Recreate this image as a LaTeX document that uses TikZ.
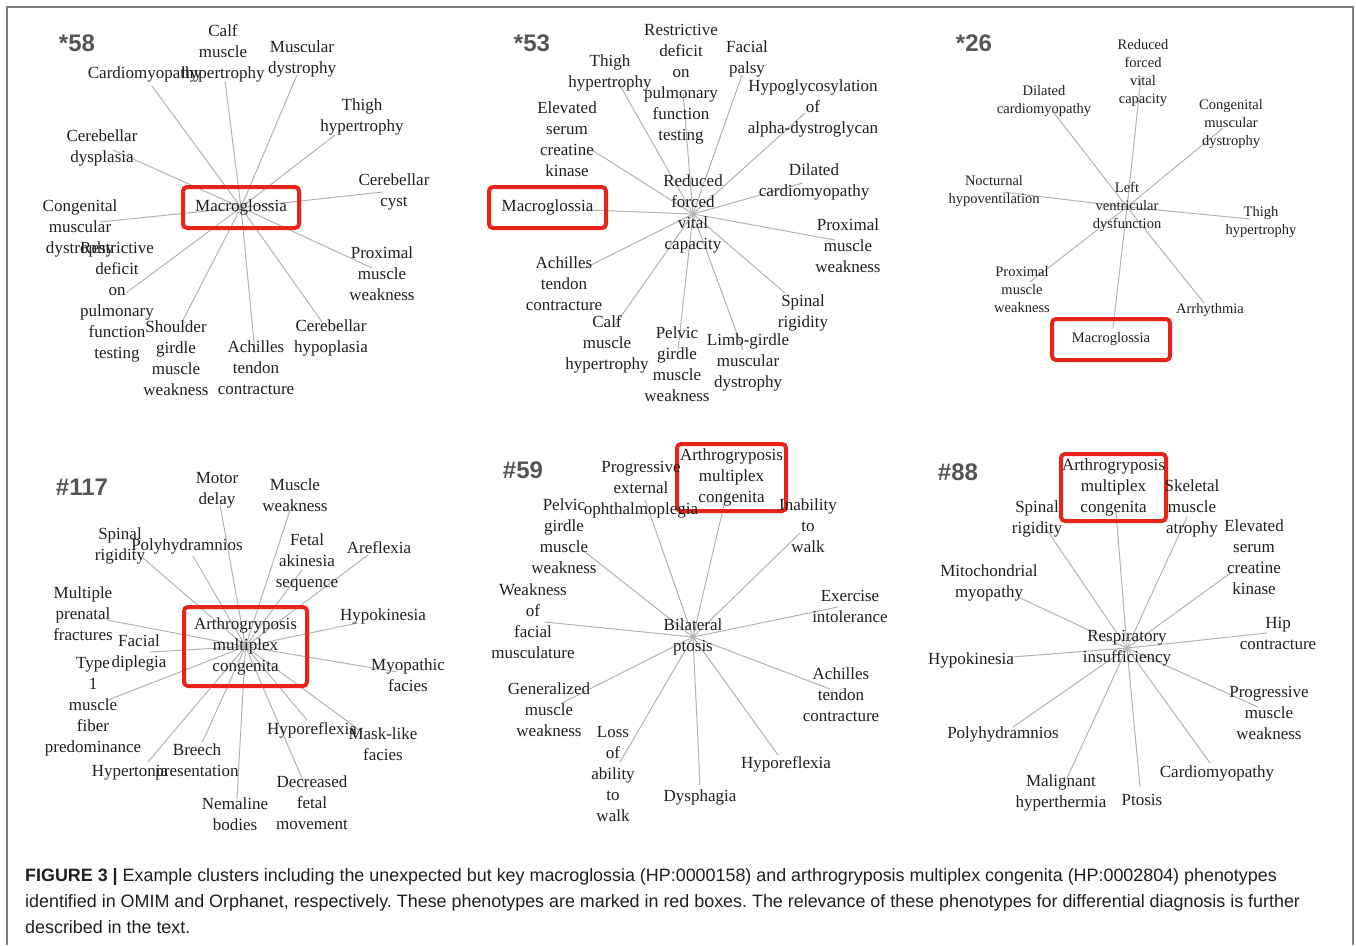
\documentclass[tikz,border=0pt]{standalone}
\usepackage{fontspec}
\setmainfont{Liberation Serif}
\newfontfamily\capfont{Liberation Sans}
\usepackage{tikz}
\usetikzlibrary{backgrounds}
\usepackage{xcolor}
\definecolor{boxred}{RGB}{232,36,26}
\definecolor{edgegray}{RGB}{178,178,178}
\definecolor{taggray}{RGB}{85,85,85}
\definecolor{framegray}{RGB}{125,125,125}
\frenchspacing

\begin{document}
\begin{tikzpicture}[
    x=1pt, y=-1pt,
    term/.style={align=center, inner sep=0pt, font=\fontsize{17}{21}\selectfont, text=black!88},
    termsm/.style={term, font=\fontsize{14.5}{18}\selectfont},
    key/.style={draw=boxred, line width=4pt, rounded corners=4pt, align=center, inner sep=0pt, font=\fontsize{17}{21}\selectfont, text=black!88},
    edge/.style={draw=edgegray, line width=1pt},
    tag/.style={font=\capfont\bfseries\fontsize{24}{24}\selectfont, text=taggray},
    caption/.style={align=left, inner sep=0pt, font=\capfont\fontsize{17.9}{26}\selectfont, text=black!88}
  ]
  \useasboundingbox (0,0) rectangle (1356,945);
  \draw[framegray, line width=1.5pt] (7,945) -- (7,7) -- (1353,7) -- (1353,945);

  % Panel *58
  \node[tag] (t1) at (77,43) {*58};
  \node[key, minimum width=116, minimum height=41] (h1) at (241,207.5) {Macroglossia};
  \node[term] (a1) at (223,53) {Calf\\muscle\\hypertrophy};          \coordinate (a1e) at (225,81);
  \node[term] (a2) at (302,59) {Muscular\\dystrophy};                \coordinate (a2e) at (297,75);
  \node[term] (a3) at (145,74) {Cardiomyopathy};                     \coordinate (a3e) at (152,86);
  \node[term] (a4) at (362,117) {Thigh\\hypertrophy};                \coordinate (a4e) at (335,135);
  \node[term] (a5) at (102,148) {Cerebellar\\dysplasia};             \coordinate (a5e) at (113,150);
  \node[term] (a6) at (394,192) {Cerebellar\\cyst};                  \coordinate (a6e) at (383,192);
  \node[term] (a7) at (80,228) {Congenital\\muscular\\dystrophy};    \coordinate (a7e) at (100,222);
  \node[term] (a8) at (117,302) {Restrictive\\deficit\\on\\pulmonary\\function\\testing}; \coordinate (a8e) at (126,293);
  \node[term] (a9) at (176,358) {Shoulder\\girdle\\muscle\\weakness}; \coordinate (a9e) at (182,322);
  \node[term] (a10) at (256,368) {Achilles\\tendon\\contracture};    \coordinate (a10e) at (255,353);
  \node[term] (a11) at (331,338) {Cerebellar\\hypoplasia};           \coordinate (a11e) at (322,322);
  \node[term] (a12) at (382,274) {Proximal\\muscle\\weakness};       \coordinate (a12e) at (372,268);

  % Panel *53
  \node[tag] (t2) at (532,43) {*53};
  \node[term] (h2) at (693,214) {Reduced\\forced\\vital\\capacity};
  \node[key, minimum width=117, minimum height=41] (b1) at (547.5,207.5) {Macroglossia}; \coordinate (b1e) at (588,210);
  \node[term] (b2) at (610,73) {Thigh\\hypertrophy};                 \coordinate (b2e) at (618,82);
  \node[term] (b3) at (681,84) {Restrictive\\deficit\\on\\pulmonary\\function\\testing}; \coordinate (b3e) at (683,93);
  \node[term] (b4) at (747,59) {Facial\\palsy};                      \coordinate (b4e) at (742,75);
  \node[term] (b5) at (813,108) {Hypoglycosylation\\of\\alpha-dystroglycan}; \coordinate (b5e) at (805,113);
  \node[term] (b6) at (567,139) {Elevated\\serum\\creatine\\kinase}; \coordinate (b6e) at (592,150);
  \node[term] (b7) at (814,182) {Dilated\\cardiomyopathy};           \coordinate (b7e) at (803,183);
  \node[term] (b8) at (848,246) {Proximal\\muscle\\weakness};        \coordinate (b8e) at (835,240);
  \node[term] (b9) at (564,284) {Achilles\\tendon\\contracture};     \coordinate (b9e) at (585,268);
  \node[term] (b10) at (607,344) {Calf\\muscle\\hypertrophy};        \coordinate (b10e) at (615,325);
  \node[term] (b11) at (677,364) {Pelvic\\girdle\\muscle\\weakness}; \coordinate (b11e) at (678,350);
  \node[term] (b12) at (748,362) {Limb-girdle\\muscular\\dystrophy}; \coordinate (b12e) at (743,350);
  \node[term] (b13) at (803,313) {Spinal\\rigidity};                 \coordinate (b13e) at (785,293);

  % Panel *26
  \node[tag] (t3) at (974,43) {*26};
  \node[termsm] (h3) at (1127,207) {Left\\ventricular\\dysfunction};
  \node[termsm] (c1) at (1143,73) {Reduced\\forced\\vital\\capacity}; \coordinate (c1e) at (1141,78);
  \node[termsm] (c2) at (1044,101) {Dilated\\cardiomyopathy};        \coordinate (c2e) at (1054,113);
  \node[termsm] (c3) at (1231,124) {Congenital\\muscular\\dystrophy}; \coordinate (c3e) at (1223,128);
  \node[termsm] (c4) at (994,191) {Nocturnal\\hypoventilation};      \coordinate (c4e) at (1003,192);
  \node[termsm] (c5) at (1261,222) {Thigh\\hypertrophy};             \coordinate (c5e) at (1250,219);
  \node[termsm] (c6) at (1022,290) {Proximal\\muscle\\weakness};     \coordinate (c6e) at (1030,282);
  \node[key, font=\fontsize{14.5}{18}\selectfont, minimum width=118, minimum height=41] (c7) at (1111,339.5) {Macroglossia}; \coordinate (c7e) at (1113,328);
  \node[termsm] (c8) at (1210,310) {Arrhythmia};                     \coordinate (c8e) at (1204,303);

  % Panel #117
  \node[tag] (t4) at (82,487) {\#117};
  \node[key, minimum width=123, minimum height=79] (h4) at (245.5,646.5) {Arthrogryposis\\multiplex\\congenita};
  \node[term] (d1) at (217,490) {Motor\\delay};                      \coordinate (d1e) at (220,505);
  \node[term] (d2) at (295,495) {Muscle\\weakness};                  \coordinate (d2e) at (290,510);
  \node[term] (d3) at (120,546) {Spinal\\rigidity};                  \coordinate (d3e) at (143,558);
  \node[term] (d4) at (187,546) {Polyhydramnios};                    \coordinate (d4e) at (193,556);
  \node[term] (d5) at (307,562) {Fetal\\akinesia\\sequence};         \coordinate (d5e) at (302,570);
  \node[term] (d6) at (379,548) {Areflexia};                         \coordinate (d6e) at (368,555);
  \node[term] (d7) at (83,614) {Multiple\\prenatal\\fractures};      \coordinate (d7e) at (107,620);
  \node[term] (d8) at (383,616) {Hypokinesia};                       \coordinate (d8e) at (358,623);
  \node[term] (d9) at (139,653) {Facial\\diplegia};                  \coordinate (d9e) at (150,652);
  \node[term] (d10) at (93,707) {Type\\1\\muscle\\fiber\\predominance}; \coordinate (d10e) at (108,700);
  \node[term] (d11) at (408,675) {Myopathic\\facies};                \coordinate (d11e) at (397,672);
  \node[term] (d12) at (130,773) {Hypertonia};                       \coordinate (d12e) at (148,762);
  \node[term] (d13) at (197,762) {Breech\\presentation};             \coordinate (d13e) at (202,743);
  \node[term] (d14) at (235,814) {Nemaline\\bodies};                 \coordinate (d14e) at (237,798);
  \node[term] (d15) at (312,730) {Hyporeflexia};                     \coordinate (d15e) at (307,720);
  \node[term] (d16) at (383,744) {Mask-like\\facies};                \coordinate (d16e) at (362,732);
  \node[term] (d17) at (312,803) {Decreased\\fetal\\movement};       \coordinate (d17e) at (307,790);

  % Panel #59
  \node[tag] (t5) at (523,470) {\#59};
  \node[term] (h5) at (693,637) {Bilateral\\ptosis};
  \node[key, minimum width=109, minimum height=67] (e1) at (731.5,477.5) {Arthrogryposis\\multiplex\\congenita}; \coordinate (e1e) at (727,492);
  \node[term] (e2) at (641,490) {Progressive\\external\\ophthalmoplegia}; \coordinate (e2e) at (645,500);
  \node[term] (e3) at (564,536) {Pelvic\\girdle\\muscle\\weakness};  \coordinate (e3e) at (585,552);
  \node[term] (e4) at (808,526) {Inability\\to\\walk};               \coordinate (e4e) at (800,533);
  \node[term] (e5) at (533,621) {Weakness\\of\\facial\\musculature}; \coordinate (e5e) at (545,622);
  \node[term] (e6) at (850,606) {Exercise\\intolerance};             \coordinate (e6e) at (838,607);
  \node[term] (e7) at (549,710) {Generalized\\muscle\\weakness};     \coordinate (e7e) at (562,703);
  \node[term] (e8) at (841,695) {Achilles\\tendon\\contracture};     \coordinate (e8e) at (830,689);
  \node[term] (e9) at (613,774) {Loss\\of\\ability\\to\\walk};       \coordinate (e9e) at (620,762);
  \node[term] (e10) at (700,797) {Dysphagia};                        \coordinate (e10e) at (700,785);
  \node[term] (e11) at (786,764) {Hyporeflexia};                     \coordinate (e11e) at (778,755);

  % Panel #88
  \node[tag] (t6) at (958,472) {\#88};
  \node[term] (h6) at (1127,648) {Respiratory\\insufficiency};
  \node[key, minimum width=105, minimum height=67] (f1) at (1113.5,487.5) {Arthrogryposis\\multiplex\\congenita}; \coordinate (f1e) at (1116,512);
  \node[term] (f2) at (1192,508) {Skeletal\\muscle\\atrophy};        \coordinate (f2e) at (1187,517);
  \node[term] (f3) at (1037,519) {Spinal\\rigidity};                 \coordinate (f3e) at (1047,530);
  \node[term] (f4) at (1254,557) {Elevated\\serum\\creatine\\kinase}; \coordinate (f4e) at (1232,572);
  \node[term] (f5) at (989,583) {Mitochondrial\\myopathy};           \coordinate (f5e) at (1018,597);
  \node[term] (f6) at (1278,633) {Hip\\contracture};                 \coordinate (f6e) at (1267,633);
  \node[term] (f7) at (971,660) {Hypokinesia};                       \coordinate (f7e) at (1012,657);
  \node[term] (f8) at (1269,713) {Progressive\\muscle\\weakness};    \coordinate (f8e) at (1258,707);
  \node[term] (f9) at (1003,734) {Polyhydramnios};                   \coordinate (f9e) at (1013,727);
  \node[term] (f10) at (1217,773) {Cardiomyopathy};                  \coordinate (f10e) at (1210,763);
  \node[term] (f11) at (1061,793) {Malignant\\hyperthermia};         \coordinate (f11e) at (1067,778);
  \node[term] (f12) at (1142,800) {Ptosis};                          \coordinate (f12e) at (1140,787);

  % Caption
  \node[caption, anchor=north west] (cap) at (25,868) {{\bfseries FIGURE 3 |} Example clusters including the unexpected but key macroglossia (HP:0000158) and arthrogryposis multiplex congenita (HP:0002804) phenotypes\\
    identified in OMIM and Orphanet, respectively. These phenotypes are marked in red boxes. The relevance of these phenotypes for differential diagnosis is further\\
    described in the text.};

  % Edges
  \begin{scope}[on background layer]
    \draw[edge] (h1.center) -- (a1e);
    \draw[edge] (h1.center) -- (a2e);
    \draw[edge] (h1.center) -- (a3e);
    \draw[edge] (h1.center) -- (a4e);
    \draw[edge] (h1.center) -- (a5e);
    \draw[edge] (h1.center) -- (a6e);
    \draw[edge] (h1.center) -- (a7e);
    \draw[edge] (h1.center) -- (a8e);
    \draw[edge] (h1.center) -- (a9e);
    \draw[edge] (h1.center) -- (a10e);
    \draw[edge] (h1.center) -- (a11e);
    \draw[edge] (h1.center) -- (a12e);

    \draw[edge] (h2.center) -- (b1e);
    \draw[edge] (h2.center) -- (b2e);
    \draw[edge] (h2.center) -- (b3e);
    \draw[edge] (h2.center) -- (b4e);
    \draw[edge] (h2.center) -- (b5e);
    \draw[edge] (h2.center) -- (b6e);
    \draw[edge] (h2.center) -- (b7e);
    \draw[edge] (h2.center) -- (b8e);
    \draw[edge] (h2.center) -- (b9e);
    \draw[edge] (h2.center) -- (b10e);
    \draw[edge] (h2.center) -- (b11e);
    \draw[edge] (h2.center) -- (b12e);
    \draw[edge] (h2.center) -- (b13e);

    \draw[edge] (h3.center) -- (c1e);
    \draw[edge] (h3.center) -- (c2e);
    \draw[edge] (h3.center) -- (c3e);
    \draw[edge] (h3.center) -- (c4e);
    \draw[edge] (h3.center) -- (c5e);
    \draw[edge] (h3.center) -- (c6e);
    \draw[edge] (h3.center) -- (c7e);
    \draw[edge] (h3.center) -- (c8e);

    \draw[edge] (h4.center) -- (d1e);
    \draw[edge] (h4.center) -- (d2e);
    \draw[edge] (h4.center) -- (d3e);
    \draw[edge] (h4.center) -- (d4e);
    \draw[edge] (h4.center) -- (d5e);
    \draw[edge] (h4.center) -- (d6e);
    \draw[edge] (h4.center) -- (d7e);
    \draw[edge] (h4.center) -- (d8e);
    \draw[edge] (h4.center) -- (d9e);
    \draw[edge] (h4.center) -- (d10e);
    \draw[edge] (h4.center) -- (d11e);
    \draw[edge] (h4.center) -- (d12e);
    \draw[edge] (h4.center) -- (d13e);
    \draw[edge] (h4.center) -- (d14e);
    \draw[edge] (h4.center) -- (d15e);
    \draw[edge] (h4.center) -- (d16e);
    \draw[edge] (h4.center) -- (d17e);

    \draw[edge] (h5.center) -- (e1e);
    \draw[edge] (h5.center) -- (e2e);
    \draw[edge] (h5.center) -- (e3e);
    \draw[edge] (h5.center) -- (e4e);
    \draw[edge] (h5.center) -- (e5e);
    \draw[edge] (h5.center) -- (e6e);
    \draw[edge] (h5.center) -- (e7e);
    \draw[edge] (h5.center) -- (e8e);
    \draw[edge] (h5.center) -- (e9e);
    \draw[edge] (h5.center) -- (e10e);
    \draw[edge] (h5.center) -- (e11e);

    \draw[edge] (h6.center) -- (f1e);
    \draw[edge] (h6.center) -- (f2e);
    \draw[edge] (h6.center) -- (f3e);
    \draw[edge] (h6.center) -- (f4e);
    \draw[edge] (h6.center) -- (f5e);
    \draw[edge] (h6.center) -- (f6e);
    \draw[edge] (h6.center) -- (f7e);
    \draw[edge] (h6.center) -- (f8e);
    \draw[edge] (h6.center) -- (f9e);
    \draw[edge] (h6.center) -- (f10e);
    \draw[edge] (h6.center) -- (f11e);
    \draw[edge] (h6.center) -- (f12e);
  \end{scope}
\end{tikzpicture}
\end{document}
